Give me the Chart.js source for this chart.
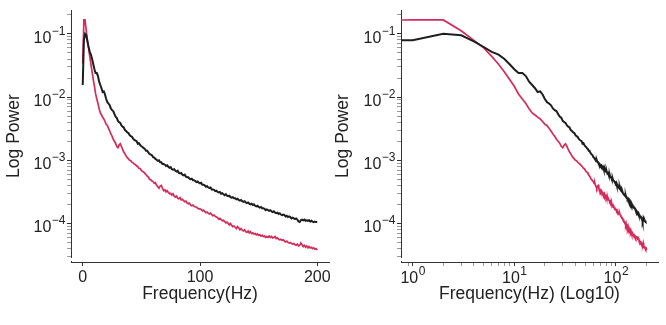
<!DOCTYPE html>
<html>
<head>
<meta charset="utf-8">
<script src="https://cdn.jsdelivr.net/npm/chart.js@4"></script>
<style>
  html, body { margin: 0; padding: 0; background: #fff; }
  #wrap { display: flex; width: 666px; height: 325px; }
  canvas { display: block; }
</style>
</head>
<body>
<div id="wrap">
  <canvas id="lin-chart" width="333" height="325"></canvas>
  <canvas id="log-chart" width="333" height="325"></canvas>
</div>
<script>
// -------------- Data (1 Hz bins, 0 - 200 Hz) --------------
const freqs = [
  0, 1, 2, 3, 4, 5, 6, 7, 8, 9, 10, 11, 12, 13, 14, 15, 16, 17, 18, 19,
  20, 21, 22, 23, 24, 25, 26, 27, 28, 29, 30, 31, 32, 33, 34, 35, 36, 37, 38, 39,
  40, 41, 42, 43, 44, 45, 46, 47, 48, 49, 50, 51, 52, 53, 54, 55, 56, 57, 58, 59,
  60, 61, 62, 63, 64, 65, 66, 67, 68, 69, 70, 71, 72, 73, 74, 75, 76, 77, 78, 79,
  80, 81, 82, 83, 84, 85, 86, 87, 88, 89, 90, 91, 92, 93, 94, 95, 96, 97, 98, 99,
  100, 101, 102, 103, 104, 105, 106, 107, 108, 109, 110, 111, 112, 113, 114, 115, 116, 117, 118, 119,
  120, 121, 122, 123, 124, 125, 126, 127, 128, 129, 130, 131, 132, 133, 134, 135, 136, 137, 138, 139,
  140, 141, 142, 143, 144, 145, 146, 147, 148, 149, 150, 151, 152, 153, 154, 155, 156, 157, 158, 159,
  160, 161, 162, 163, 164, 165, 166, 167, 168, 169, 170, 171, 172, 173, 174, 175, 176, 177, 178, 179,
  180, 181, 182, 183, 184, 185, 186, 187, 188, 189, 190, 191, 192, 193, 194, 195, 196, 197, 198, 199,
  200
];

// black trace
const blackPower = [
  1.55e-2, 7.94e-2, 1.00e-1, 9.5e-2, 7.6e-2, 6.2e-2, 5.2e-2, 4.7e-2, 4.0e-2, 3.3e-2,
  2.75e-2, 2.4e-2, 2.4e-2, 2.15e-2, 1.75e-2, 1.55e-2, 1.38e-2, 1.2e-2, 1.23e-2, 1.1e-2,
  9.3e-3, 8.3e-3, 7.9e-3, 7.4e-3, 6.6e-3, 6.2e-3, 6.0e-3, 5.4e-3, 4.9e-3, 4.7e-3,
  4.2e-3, 4.0e-3, 3.9e-3, 3.55e-3, 3.4e-3, 3.3e-3, 3.0e-3, 2.9e-3, 2.75e-3, 2.7e-3,
  2.5e-3, 2.4e-3, 2.35e-3, 2.2e-3, 2.1e-3, 2.05e-3, 2.0e-3, 1.82e-3, 1.86e-3, 1.74e-3,
  1.66e-3, 1.62e-3, 1.55e-3, 1.51e-3, 1.41e-3, 1.41e-3, 1.32e-3, 1.26e-3, 1.23e-3, 1.2e-3,
  1.12e-3, 1.10e-3, 1.05e-3, 1.02e-3, 9.8e-4, 1.0e-3, 9.3e-4, 9.3e-4, 8.7e-4, 8.7e-4,
  8.5e-4, 8.1e-4, 8.3e-4, 7.9e-4, 7.6e-4, 7.8e-4, 7.2e-4, 7.1e-4, 7.2e-4, 6.8e-4,
  6.6e-4, 6.8e-4, 6.3e-4, 6.2e-4, 6.3e-4, 5.9e-4, 5.75e-4, 5.9e-4, 5.5e-4, 5.4e-4,
  5.4e-4, 5.1e-4, 5.0e-4, 5.1e-4, 4.8e-4, 4.8e-4, 4.7e-4, 4.5e-4, 4.6e-4, 4.4e-4,
  4.3e-4, 4.4e-4, 4.1e-4, 4.1e-4, 4.0e-4, 3.8e-4, 3.9e-4, 3.7e-4, 3.65e-4, 3.7e-4,
  3.45e-4, 3.45e-4, 3.4e-4, 3.25e-4, 3.3e-4, 3.15e-4, 3.1e-4, 3.15e-4, 2.95e-4, 3.0e-4,
  2.9e-4, 2.8e-4, 2.9e-4, 2.75e-4, 2.7e-4, 2.75e-4, 2.6e-4, 2.55e-4, 2.6e-4, 2.5e-4,
  2.5e-4, 2.4e-4, 2.45e-4, 2.35e-4, 2.3e-4, 2.35e-4, 2.25e-4, 2.2e-4, 2.25e-4, 2.15e-4,
  2.1e-4, 2.15e-4, 2.05e-4, 2.0e-4, 2.05e-4, 1.95e-4, 2.0e-4, 1.9e-4, 1.86e-4, 1.9e-4,
  1.82e-4, 1.78e-4, 1.82e-4, 1.74e-4, 1.74e-4, 1.7e-4, 1.62e-4, 1.66e-4, 1.62e-4, 1.58e-4,
  1.62e-4, 1.55e-4, 1.51e-4, 1.55e-4, 1.48e-4, 1.45e-4, 1.48e-4, 1.41e-4, 1.45e-4, 1.38e-4,
  1.35e-4, 1.38e-4, 1.35e-4, 1.29e-4, 1.32e-4, 1.26e-4, 1.29e-4, 1.26e-4, 1.2e-4, 1.23e-4,
  1.2e-4, 1.17e-4, 1.2e-4, 1.15e-4, 1.07e-4, 1.05e-4, 1.12e-4, 1.15e-4, 1.12e-4, 1.15e-4,
  1.1e-4, 1.12e-4, 1.1e-4, 1.12e-4, 1.07e-4, 1.1e-4, 1.07e-4, 1.05e-4, 1.07e-4, 1.05e-4,
  1.05e-4
];

// red trace
const redPower = [
  3.4e-2, 1.66e-1, 1.66e-1, 1.12e-1, 7.9e-2, 6.0e-2, 4.4e-2, 3.3e-2, 2.5e-2, 1.9e-2,
  1.48e-2, 1.12e-2, 9.3e-3, 7.9e-3, 6.5e-3, 5.6e-3, 5.2e-3, 4.8e-3, 4.5e-3, 4.1e-3,
  3.7e-3, 3.55e-3, 3.2e-3, 2.9e-3, 2.6e-3, 2.4e-3, 2.15e-3, 2.0e-3, 1.86e-3, 1.66e-3,
  1.58e-3, 1.74e-3, 1.82e-3, 1.66e-3, 1.48e-3, 1.35e-3, 1.26e-3, 1.17e-3, 1.1e-3, 1.05e-3,
  1.0e-3, 9.8e-4, 9.3e-4, 9.1e-4, 8.7e-4, 8.5e-4, 8.1e-4, 7.9e-4, 7.4e-4, 7.4e-4,
  6.9e-4, 6.6e-4, 6.5e-4, 6.2e-4, 5.9e-4, 5.6e-4, 5.4e-4, 5.0e-4, 4.9e-4, 4.7e-4,
  4.6e-4, 4.3e-4, 4.4e-4, 4.0e-4, 3.8e-4, 3.6e-4, 3.9e-4, 4.0e-4, 3.6e-4, 3.3e-4,
  3.4e-4, 3.15e-4, 3.3e-4, 3.1e-4, 2.95e-4, 3.0e-4, 2.8e-4, 2.95e-4, 2.7e-4, 2.6e-4,
  2.7e-4, 2.5e-4, 2.45e-4, 2.55e-4, 2.35e-4, 2.4e-4, 2.3e-4, 2.2e-4, 2.25e-4, 2.1e-4,
  2.05e-4, 2.1e-4, 1.95e-4, 1.9e-4, 1.95e-4, 1.86e-4, 1.82e-4, 1.82e-4, 1.74e-4, 1.7e-4,
  1.7e-4, 1.66e-4, 1.58e-4, 1.62e-4, 1.55e-4, 1.48e-4, 1.51e-4, 1.45e-4, 1.41e-4, 1.45e-4,
  1.38e-4, 1.32e-4, 1.35e-4, 1.29e-4, 1.26e-4, 1.23e-4, 1.17e-4, 1.2e-4, 1.15e-4, 1.1e-4,
  1.12e-4, 1.07e-4, 1.02e-4, 1.05e-4, 1.0e-4, 9.5e-5, 1.0e-4, 9.3e-5, 8.9e-5, 9.1e-5,
  8.7e-5, 8.3e-5, 8.9e-5, 8.5e-5, 7.9e-5, 8.3e-5, 7.8e-5, 7.6e-5, 7.9e-5, 7.4e-5,
  7.2e-5, 7.6e-5, 7.1e-5, 7.4e-5, 6.9e-5, 7.1e-5, 6.8e-5, 6.9e-5, 6.6e-5, 6.8e-5,
  6.5e-5, 6.6e-5, 6.3e-5, 6.5e-5, 6.2e-5, 6.3e-5, 6.0e-5, 6.2e-5, 6.0e-5, 6.3e-5,
  6.0e-5, 6.2e-5, 5.9e-5, 6.0e-5, 6.2e-5, 5.75e-5, 5.9e-5, 5.6e-5, 5.5e-5, 5.6e-5,
  5.4e-5, 5.5e-5, 5.25e-5, 5.1e-5, 5.25e-5, 5.0e-5, 4.9e-5, 5.0e-5, 4.8e-5, 4.7e-5,
  4.8e-5, 4.6e-5, 4.5e-5, 4.7e-5, 4.4e-5, 4.5e-5, 4.9e-5, 4.6e-5, 4.3e-5, 4.5e-5,
  4.2e-5, 4.4e-5, 4.1e-5, 4.3e-5, 4.1e-5, 4.2e-5, 4.0e-5, 4.1e-5, 3.9e-5, 4.0e-5,
  3.8e-5
];

// tick labels
const linXTicks = [0, 100, 200];
const logXTicks = [1, 10, 100];
const logYTicks = [1e-1, 1e-2, 1e-3, 1e-4];

const BLACK = '#1e1e1e';
const RED = '#d52b5a';
const TEXT = '#222';
const FONT = "'Liberation Sans', Arial, sans-serif";

// -------------- helpers --------------
const inList = (v, list) => list.some(t => Math.abs(v / t - 1) < 1e-6);
const mantissa = v => v / Math.pow(10, Math.floor(Math.log10(v) + 1e-9));
// log ticks at 1..9 x 10^n get a mark, the odd min/max ticks do not
const tickColor = ctx => {
  const m = mantissa(ctx.tick.value);
  if (Math.abs(m - Math.round(m)) > 1e-6) return 'rgba(0,0,0,0)';
  return Math.abs(m - 1) < 1e-6 ? '#333' : '#999';
};

// "10" with a raised exponent, the way matplotlib writes log tick labels
function drawPow(ctx, v, x, baseY, align) {
  const exp = String(Math.round(Math.log10(v))).replace('-', '\u2212');
  ctx.font = '16px ' + FONT;
  const wBase = ctx.measureText('10').width;
  ctx.font = '12px ' + FONT;
  const wExp = ctx.measureText(exp).width;
  const left = align === 'right' ? x - wBase - wExp : x - (wBase + wExp) / 2;
  ctx.textAlign = 'left';
  ctx.textBaseline = 'alphabetic';
  ctx.fillStyle = TEXT;
  ctx.font = '16px ' + FONT;
  ctx.fillText('10', left, baseY);
  ctx.font = '12px ' + FONT;
  ctx.fillText(exp, left + wBase + 0.5, baseY - 8);
}

const powerLabels = {
  id: 'powerLabels',
  afterDraw(chart) {
    const {ctx, chartArea, scales} = chart;
    ctx.save();
    // leave a small gap where the two spines meet (offset spines)
    ctx.fillStyle = '#fff';
    ctx.fillRect(chartArea.left - 2, chartArea.bottom - 4, 4, 3);
    logYTicks.forEach(v => {
      drawPow(ctx, v, chartArea.left - 6, scales.y.getPixelForValue(v) + 9, 'right');
    });
    if (scales.x.type === 'logarithmic') {
      logXTicks.forEach(v => {
        drawPow(ctx, v, scales.x.getPixelForValue(v), chartArea.bottom + 21, 'center');
      });
    }
    ctx.restore();
  }
};

function yAxis(width, titlePad) {
  return {
    type: 'logarithmic',
    min: 2.45e-5,
    max: 0.237,
    afterFit: s => { s.width = width; },
    border: { display: true, color: '#333', width: 1 },
    grid: { drawOnChartArea: false, drawTicks: true, tickLength: 4, tickColor: tickColor },
    ticks: { autoSkip: false, callback: () => '' },
    title: {
      display: true, text: 'Log Power', color: TEXT,
      font: { family: FONT, size: 17.5 },
      padding: { top: titlePad, bottom: 0 }
    }
  };
}

function xTitle(text) {
  return {
    display: true, text: text, color: TEXT,
    font: { family: FONT, size: 17.5 },
    padding: { top: 0, bottom: 20 }
  };
}

const blackStyle = { label: 'black', borderColor: BLACK, borderWidth: 2, pointRadius: 0, tension: 0, fill: false };
const redStyle = { label: 'red', borderColor: RED, borderWidth: 1.7, pointRadius: 0, tension: 0, fill: false };

// -------------- Left: linear frequency axis --------------
new Chart(document.getElementById('lin-chart'), {
  type: 'line',
  data: {
    datasets: [
      Object.assign({ data: freqs.map((f, i) => ({ x: f, y: blackPower[i] })) }, blackStyle),
      Object.assign({ data: freqs.map((f, i) => ({ x: f, y: redPower[i] })) }, redStyle)
    ]
  },
  options: {
    responsive: false,
    animation: false,
    layout: { padding: { top: 7, right: 4, left: 0, bottom: 0 } },
    plugins: { legend: { display: false }, tooltip: { enabled: false } },
    scales: {
      x: {
        type: 'linear',
        min: -10,
        max: 210,
        afterFit: s => { s.height = 63; },
        border: { display: true, color: '#333', width: 1 },
        grid: { drawOnChartArea: false, drawTicks: true, tickLength: 4, tickColor: '#333' },
        ticks: {
          stepSize: 100,
          includeBounds: false,
          autoSkip: false,
          maxRotation: 0,
          padding: 2,
          color: TEXT,
          font: { family: FONT, size: 16 },
          callback: v => inList(v, linXTicks) || v === 0 ? String(v) : ''
        },
        title: xTitle('Frequency(Hz)')
      },
      y: yAxis(71, 4)
    }
  },
  plugins: [powerLabels]
});

// -------------- Right: log frequency axis --------------
// 0 Hz has no place on a log axis; like matplotlib's clipping it is pushed far left
const logF = f => (f > 0 ? f : 1e-300);

new Chart(document.getElementById('log-chart'), {
  type: 'line',
  data: {
    datasets: [
      Object.assign({ data: freqs.map((f, i) => ({ x: logF(f), y: blackPower[i] })) }, blackStyle),
      Object.assign({ data: freqs.map((f, i) => ({ x: logF(f), y: redPower[i] })) }, redStyle)
    ]
  },
  options: {
    responsive: false,
    animation: false,
    layout: { padding: { top: 7, right: 8, left: 0, bottom: 0 } },
    plugins: { legend: { display: false }, tooltip: { enabled: false } },
    scales: {
      x: {
        type: 'logarithmic',
        min: 0.767,
        max: 260,
        afterFit: s => { s.height = 63; },
        border: { display: true, color: '#333', width: 1 },
        grid: { drawOnChartArea: false, drawTicks: true, tickLength: 4, tickColor: tickColor },
        ticks: { autoSkip: false, maxRotation: 0, callback: () => '' },
        title: xTitle('Frequency(Hz) (Log10)')
      },
      y: yAxis(68, 0)
    }
  },
  plugins: [powerLabels]
});
</script>
</body>
</html>
